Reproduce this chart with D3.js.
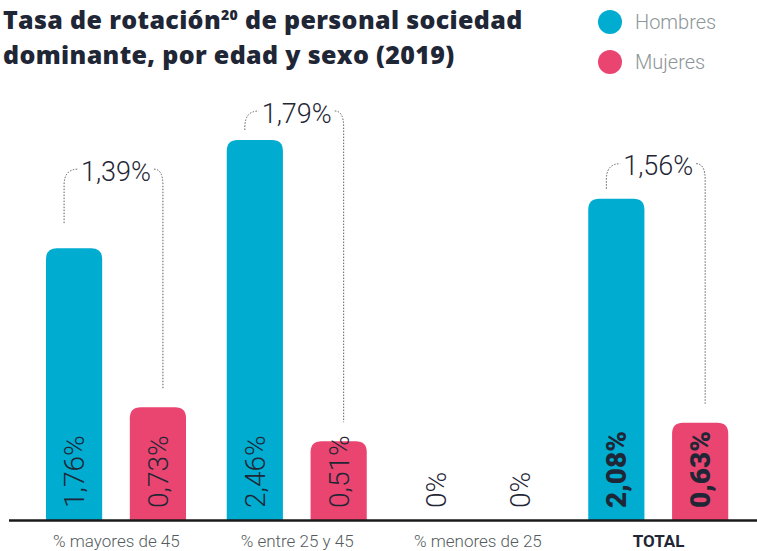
<!DOCTYPE html>
<html>
<head>
<meta charset="utf-8">
<script src="https://cdn.jsdelivr.net/npm/d3@7"></script>
<style>
  html, body { margin: 0; padding: 0; background: #fff; }
  svg { display: block; }
</style>
</head>
<body>
<svg id="chart" width="757" height="551"></svg>
<script>
// Turnover rate of the dominant company's staff, by age band and sex (2019)
const categories = ["% mayores de 45", "% entre 25 y 45", "% menores de 25", "TOTAL"];
const hombres = [1.76, 2.46, 0, 2.08];
const mujeres = [0.73, 0.51, 0, 0.63];
const totales = [1.39, 1.79, null, 1.56];
const series = ["Hombres", "Mujeres"];

const colors = { Hombres: "#00acd0", Mujeres: "#ea4470" };
const ink = "#1f2636";
const fmt = v => (v === 0 ? "0" : d3.format(".2f")(v).replace(".", ",")) + "%";

const svg = d3.select("#chart");
const W = 757, baseY = 520;

const x0 = d3.scaleBand().domain(categories).range([26, 749]).paddingInner(0).paddingOuter(0);
const x1 = d3.scaleBand().domain(series).range([20, 160]).paddingInner(0.33).paddingOuter(0);
const y = d3.scaleLinear().domain([0, 2.46]).range([baseY, 140]);

// Title
const title = svg.append("text")
  .attr("font-family", "'Open Sans', sans-serif").attr("font-weight", 800)
  .attr("font-size", 25).attr("letter-spacing", 0.35).attr("fill", ink);
const l1 = title.append("tspan").attr("x", 3).attr("y", 29);
l1.append("tspan").text("Tasa de rotación");
l1.append("tspan").attr("font-size", 14).attr("dy", -9).text("20");
l1.append("tspan").attr("dy", 9).text(" de personal sociedad");
title.append("tspan").attr("x", 3).attr("y", 64).text("dominante, por edad y sexo (2019)");

// Legend
const legend = svg.append("g");
series.forEach((s, i) => {
  const g = legend.append("g").attr("transform", `translate(610,${22 + i * 40})`);
  g.append("circle").attr("r", 12).attr("fill", colors[s]);
  g.append("text").attr("x", 25).attr("dy", "0.35em")
    .attr("font-family", "Roboto, sans-serif").attr("font-weight", 300)
    .attr("font-size", 20).attr("fill", "#8c9598").text(s);
});

// Bars with rounded top corners
function barPath(x, w, top, bottom, r) {
  const h = bottom - top;
  if (h <= 0) return "";
  r = Math.min(r, h, w / 2);
  return `M${x},${bottom}V${top + r}Q${x},${top} ${x + r},${top}H${x + w - r}Q${x + w},${top} ${x + w},${top + r}V${bottom}Z`;
}

const rows = categories.map((c, i) => ({ c, i, Hombres: hombres[i], Mujeres: mujeres[i], total: totales[i] }));

const groups = svg.append("g").selectAll("g").data(rows).join("g")
  .attr("transform", d => `translate(${x0(d.c)},0)`);

groups.selectAll("path.bar")
  .data(d => series.map(s => ({ s, v: d[s], bold: d.c === "TOTAL" })))
  .join("path").attr("class", "bar")
  .attr("fill", d => colors[d.s])
  .attr("d", d => barPath(x1(d.s), x1.bandwidth(), y(d.v), baseY, 11));

groups.selectAll("text.val")
  .data(d => series.map(s => ({ s, v: d[s], bold: d.c === "TOTAL" })))
  .join("text").attr("class", "val")
  .attr("transform", d => `translate(${x1(d.s) + x1.bandwidth() / 2},${baseY - 12}) rotate(-90)`)
  .attr("dy", "0.36em")
  .attr("font-family", "Roboto, sans-serif")
  .attr("font-weight", d => d.bold ? 900 : 300)
  .attr("font-size", 28).attr("fill", ink)
  .text(d => fmt(d.v));

// Dotted brackets linking both bars to the combined rate
const lift = [77, 27, 0, 33];
groups.filter(d => d.total != null).each(function (d) {
  const g = d3.select(this);
  const cx = (x1.range()[0] + x1.range()[1]) / 2;
  const ly = y(d.Hombres) - lift[d.i];
  const xl = x1("Hombres") + x1.bandwidth() / 2 - 10;
  const xr = x1("Mujeres") + x1.bandwidth() / 2 + 5;
  const hw = 38;
  const yl = Math.min(y(d.Hombres) - 10, ly + 52);
  const yr = y(d.Mujeres) - 19;
  g.append("path")
    .attr("fill", "none").attr("stroke", "#59606a").attr("stroke-width", 1)
    .attr("stroke-dasharray", "1.5,1.5")
    .attr("d", `M${xl},${yl}V${ly + 14}Q${xl},${ly - 2} ${cx - hw},${ly - 2}`);
  g.append("path")
    .attr("fill", "none").attr("stroke", "#59606a").attr("stroke-width", 1)
    .attr("stroke-dasharray", "1.5,1.5")
    .attr("d", `M${cx + hw},${ly - 2}Q${xr},${ly - 2} ${xr},${ly + 14}V${yr}`);
  g.append("text").attr("x", cx).attr("y", ly).attr("dy", "0.36em")
    .attr("text-anchor", "middle")
    .attr("font-family", "Roboto, sans-serif").attr("font-weight", 300)
    .attr("font-size", 27).attr("fill", ink)
    .text(fmt(d.total));
});

// Baseline and category labels
svg.append("line").attr("x1", 9).attr("x2", W).attr("y1", baseY + 0.5).attr("y2", baseY + 0.5)
  .attr("stroke", "#1a1a1a").attr("stroke-width", 2.5);

const xAxis = svg.append("g").attr("transform", `translate(0,${baseY})`)
  .call(d3.axisBottom(x0).tickSize(0).tickPadding(0));
xAxis.select(".domain").remove();
xAxis.selectAll("text")
  .attr("y", 21).attr("dy", "0.36em")
  .attr("font-family", "Roboto, sans-serif")
  .attr("font-size", 17)
  .attr("font-weight", d => d === "TOTAL" ? 700 : 300)
  .attr("fill", d => d === "TOTAL" ? ink : "#555c60");
</script>
</body>
</html>
